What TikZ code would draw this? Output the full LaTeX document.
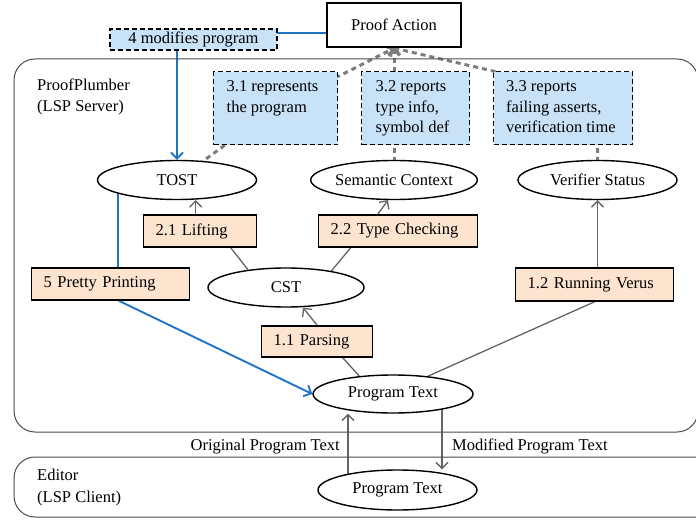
\documentclass[tikz,border=0pt]{standalone}
\usepackage{fontspec}
\setmainfont{Liberation Serif}
\usetikzlibrary{arrows.meta,backgrounds,shapes.geometric,calc}
\definecolor{lblue}{RGB}{200,226,247}
\definecolor{peach}{RGB}{253,228,207}
\definecolor{eblue}{RGB}{31,117,196}
\definecolor{gconn}{RGB}{100,100,100}
\definecolor{dgray}{RGB}{125,125,125}
\newcommand{\dfont}{\fontsize{16.5}{20.5}\selectfont}
\begin{document}
\begin{tikzpicture}[x=1pt,y=-1pt,
  every node/.style={font=\dfont},
  ell/.style={ellipse,draw,line width=1.4pt,fill=white,minimum width=159pt,minimum height=39pt,inner sep=0pt},
  obox/.style={rectangle,draw,line width=1.4pt,fill=peach,align=left,inner xsep=12pt,inner ysep=0pt,minimum height=32pt,anchor=west},
  qbox/.style={rectangle,draw,dash pattern=on 5pt off 3pt,line width=1.4pt,fill=lblue,inner sep=0pt},
  conn/.style={draw=gconn,line width=1.3pt},
  carrow/.style={conn,-{Straight Barb[length=6pt,width=12pt]}},
  bline/.style={draw=eblue,line width=1.9pt},
  barrow/.style={bline,-{Straight Barb[length=6pt,width=12pt]}},
  dline/.style={draw=dgray,line width=3pt,dash pattern=on 5pt off 4pt},
  darrow/.style={dline,-{Straight Barb[length=5pt,width=12pt]}},
  area/.style={draw=black!70,line width=1pt,rounded corners=21pt},
  plain/.style={inner sep=0pt},
]
\useasboundingbox (0,0) rectangle (696,521);
\clip (0,0) rectangle (696,521);

% areas
\draw[area] (14,59) rectangle (698,432);
\draw[area] (14,457) rectangle (740,517);
\node[plain,anchor=base west] (ppl1) at (37,91) {ProofPlumber};
\node[plain,anchor=base west] (ppl2) at (37,112) {(LSP Server)};
\node[plain,anchor=base west] (ed1) at (37,480) {Editor};
\node[plain,anchor=base west] (ed2) at (37,502) {(LSP Client)};

% top
\node[draw,line width=2.3pt,fill=white,minimum width=134pt,minimum height=44pt,inner sep=0pt] (pa) at (394,25) {Proof Action};
\node[qbox,minimum width=167pt,minimum height=21pt] (b4) at (193.5,39.5) {4 modifies program};
\coordinate (c4) at (277,33);

\node[qbox,anchor=north west,minimum width=124pt,minimum height=73pt] (b31) at (213,71)
  {\parbox[c][73pt][t]{98pt}{\rule{0pt}{20pt}3.1 represents\\the program}};
\node[qbox,anchor=north west,minimum width=108pt,minimum height=73pt] (b32) at (361,71)
  {\parbox[c][73pt][t]{80pt}{\rule{0pt}{20pt}3.2 reports\\type info,\\symbol def}};
\node[qbox,anchor=north west,minimum width=139pt,minimum height=73pt] (b33) at (493,71)
  {\parbox[c][73pt][t]{114pt}{\rule{0pt}{20pt}3.3 reports\\failing asserts,\\verification time}};

% ellipses
\node[ell] (tost) at (177,180) {TOST};
\node[ell] (sc) at (394,180) {Semantic Context};
\node[ell] (vs) at (597.5,180) {Verifier Status};
\node[ell,minimum width=156pt] (cst) at (286,287.5) {CST};
\node[ell,minimum width=160pt,minimum height=38pt] (pt) at (393,394) {Program Text};
\node[ell,minimum height=40pt] (ptc) at (397.5,490) {Program Text};

% steps
\node[obox,text width=89pt] (b21) at (143,231) {2.1 Lifting};
\node[obox,text width=135pt] (b22) at (318,231) {2.2 Type Checking};
\node[obox,text width=134pt] (b5) at (31,284) {5 Pretty Printing};
\node[obox,text width=87pt,minimum height=31pt] (b11) at (261,341.5) {1.1 Parsing};
\node[obox,text width=134pt,minimum height=33pt] (b12) at (515,284.5) {1.2 Running Verus};

% labels
\node[plain,anchor=base east] (lorig) at (340,450) {Original Program Text};
\node[plain,anchor=base west] (lmod) at (452,450) {Modified Program Text};

\begin{pgfonlayer}{background}
  % dashed links to Proof Action
  \draw[darrow] (tost.center) -- (b31.center) -- (pa.south);
  \draw[darrow] (sc.center) -- (pa.south);
  \draw[darrow] (vs.center) -- (vs.center |- b33.center) -- (b33.north west) -- (pa.south);
  % gray connectors
  \draw[conn] (cst.155) -- ([xshift=30.5pt]b21.south);
  \draw[carrow] ([xshift=-4.5pt]b21.north) -- ([xshift=-4.5pt]b21.north |- tost.south);
  \draw[conn] (cst.20) -- ([xshift=-47.5pt]b22.south);
  \draw[carrow] ([xshift=-20.5pt]b22.north) -- ([xshift=-6pt]sc.south);
  \draw[conn] (pt.152) -- ([xshift=25.5pt]b11.south);
  \draw[carrow] (b11.north) -- ([xshift=17pt]cst.south);
  \draw[conn] (pt.27) -- (b12.south);
  \draw[carrow] (vs.south |- b12.north) -- (vs.south);
  % blue
  \draw[bline] (c4) -- (c4 -| pa.west);
  \draw[barrow] (tost.north |- b4.south) -- (tost.north);
  \draw[bline] ([xshift=7pt]b5.north) -- ([xshift=7pt]b5.north |- tost.center);
  \draw[barrow] ([xshift=8pt]b5.south) -- (pt.west);
  % editor links
  \draw[carrow] ([xshift=-49.5pt]ptc.center) -- ([xshift=-49.5pt]ptc.center |- pt.south);
  \draw[carrow] ([xshift=49pt]pt.center) -- ([xshift=49pt]pt.center |- ptc.north);
\end{pgfonlayer}
\end{tikzpicture}
\end{document}
